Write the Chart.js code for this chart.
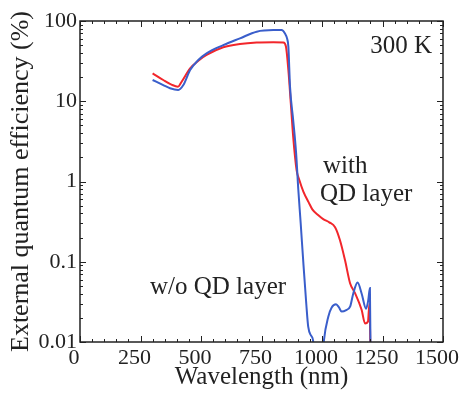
<!DOCTYPE html>
<html>
<head>
<meta charset="utf-8">
<script src="https://cdn.jsdelivr.net/npm/chart.js@4/dist/chart.umd.min.js"></script>
<style>
    body { margin: 0; background: #fff; }
    #wrap { position: relative; width: 460px; height: 394px; }
</style>
</head>
<body>
<div id="wrap"><canvas id="eqe-chart"></canvas></div>
<script>
// EQE spectra (wavelength in nm, EQE in %)
const blueWavelength = [300, 344, 372, 406, 427, 455, 489, 523, 592, 661, 730, 799, 833, 847, 856, 861, 868, 881, 893, 902,
    912, 923, 935, 943, 955, 963, 970, 1000, 1008, 1026, 1040, 1058, 1070, 1081, 1100, 1116, 1129, 1147, 1164, 1182,
    1191, 1198, 1201];
const blueEqe = [18.4, 15.9, 14.5, 13.8, 15.9, 24.5, 32.7, 39.5, 50, 60.8, 73.6, 77, 77, 70, 60, 48, 15, 5.8, 2.26, 0.8,
    0.3, 0.096, 0.03, 0.0155, 0.012, 0.0105, 0.005, 0.005, 0.0105, 0.0207, 0.027, 0.0295, 0.027, 0.024, 0.025, 0.0275, 0.04, 0.055, 0.04, 0.026,
    0.033, 0.047, 0.005];

const redWavelength = [300, 344, 380, 405, 420, 455, 489, 523, 592, 661, 730, 799, 840, 851, 861, 871, 881, 895, 906, 923,
    945, 960, 985, 1005, 1030, 1054, 1074, 1095, 1116, 1136, 1164, 1178, 1190, 1196, 1201];
const redEqe = [22.3, 18.4, 16, 15.2, 17.5, 25.7, 32, 37.7, 47, 51.7, 54, 54.5, 54, 48, 24.5, 9.5, 3.6, 1.39, 1.05, 0.75,
    0.55, 0.45, 0.38, 0.34, 0.31, 0.27, 0.187, 0.105, 0.054, 0.041, 0.025, 0.017, 0.018, 0.03, 0.005];

const xTicks = [0, 250, 500, 750, 1000, 1250, 1500];
const yTicks = [0.01, 0.1, 1, 10, 100];

const SERIF = '"Liberation Serif", "DejaVu Serif", serif';
const INK = '#222';

// frame with inward ticks on all four sides, plus the text labels inside the plot
const frameTicks = {
    id: 'frameTicks',
    afterDraw(chart) {
        const { ctx, chartArea: a, scales: { x, y } } = chart;
        const seg = (x1, y1, x2, y2) => { ctx.beginPath(); ctx.moveTo(x1, y1); ctx.lineTo(x2, y2); ctx.stroke(); };
        ctx.save();
        ctx.strokeStyle = INK;
        ctx.lineWidth = 1;
        for (let v = 0; v <= 1500; v += 50) {
            const px = Math.round(x.getPixelForValue(v)) + 0.5;
            const len = v % 250 === 0 ? 6 : 3;
            seg(px, a.bottom, px, a.bottom - len);
            seg(px, a.top, px, a.top + len);
        }
        for (const d of [0.01, 0.1, 1, 10]) {
            for (let m = 1; m <= 10; m++) {
                const py = Math.round(y.getPixelForValue(d * m)) + 0.5;
                const len = (m === 1 || m === 10) ? 6 : 3;
                seg(a.left, py, a.left + len, py);
                seg(a.right, py, a.right - len, py);
            }
        }
        ctx.lineWidth = 1.5;
        ctx.strokeRect(a.left, a.top, a.right - a.left, a.bottom - a.top);

        ctx.fillStyle = INK;
        ctx.font = '25px ' + SERIF;
        ctx.textBaseline = 'alphabetic';
        ctx.textAlign = 'right';
        ctx.fillText('300 K', 432, 53);
        ctx.textAlign = 'left';
        ctx.fillText('with', 323, 173);
        ctx.fillText('QD layer', 320, 201);
        ctx.fillText('w/o QD layer', 150, 294);
        ctx.restore();
    }
};

const toPoints = (xs, ys) => xs.map((v, i) => ({ x: v, y: ys[i] }));

new Chart(document.getElementById('eqe-chart'), {
    type: 'line',
    data: {
        datasets: [
            {
                label: 'w/o QD layer',
                data: toPoints(blueWavelength, blueEqe),
                borderColor: '#3a5ecb',
                borderWidth: 2,
                pointRadius: 0,
                cubicInterpolationMode: 'monotone',
                clip: 0
            },
            {
                label: 'with QD layer',
                data: toPoints(redWavelength, redEqe),
                borderColor: '#f2262b',
                borderWidth: 2,
                pointRadius: 0,
                cubicInterpolationMode: 'monotone',
                clip: 0
            }
        ]
    },
    options: {
        responsive: true,
        maintainAspectRatio: false,
        animation: false,
        layout: { padding: { top: 21, right: 17, left: 0, bottom: 0 } },
        plugins: {
            legend: { display: false },
            tooltip: { enabled: false }
        },
        scales: {
            x: {
                type: 'linear',
                min: 0,
                max: 1500,
                afterBuildTicks: (scale) => { scale.ticks = xTicks.map(v => ({ value: v })); },
                afterFit: (scale) => {
                    scale.height = 52;
                    scale.paddingLeft = 0;
                    scale.paddingRight = 0;
                },
                grid: { display: false, drawTicks: false },
                border: { display: false },
                ticks: {
                    color: INK,
                    font: { family: SERIF, size: 22 },
                    padding: 3,
                    labelOffset: -6,
                    maxRotation: 0,
                    autoSkip: false,
                    callback: (v) => String(v)
                },
                title: {
                    display: true,
                    text: 'Wavelength (nm)',
                    color: INK,
                    font: { family: SERIF, size: 25 },
                    padding: { top: 0, bottom: 2 }
                }
            },
            y: {
                type: 'logarithmic',
                min: 0.01,
                max: 100,
                afterBuildTicks: (scale) => { scale.ticks = yTicks.map(v => ({ value: v })); },
                afterFit: (scale) => {
                    scale.width = 80;
                    scale.paddingTop = 0;
                    scale.paddingBottom = 0;
                },
                grid: { display: false, drawTicks: false },
                border: { display: false },
                ticks: {
                    color: INK,
                    font: { family: SERIF, size: 22 },
                    padding: 3,
                    autoSkip: false,
                    callback: (v) => String(v)
                },
                title: {
                    display: true,
                    text: 'External quantum efficiency (%)',
                    color: INK,
                    font: { family: SERIF, size: 26 },
                    padding: { top: 6, bottom: 0 }
                }
            }
        }
    },
    plugins: [frameTicks]
});
</script>
</body>
</html>
